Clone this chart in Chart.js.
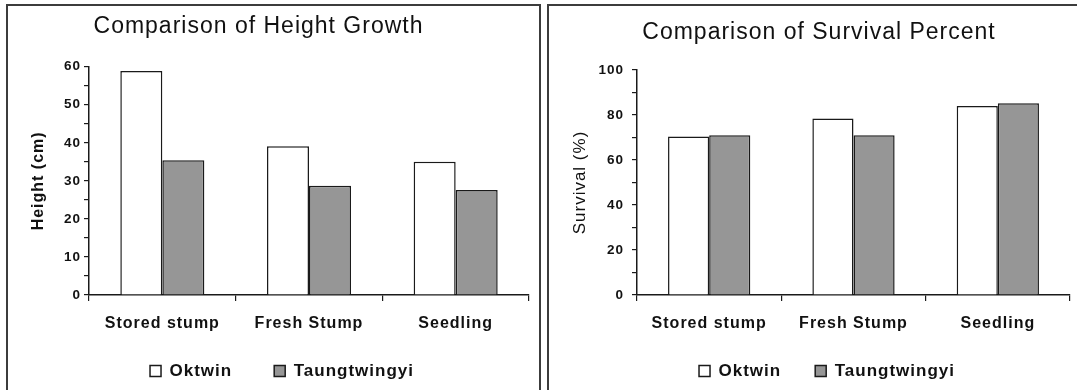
<!DOCTYPE html>
<html>
<head>
<meta charset="utf-8">
<script src="https://cdn.jsdelivr.net/npm/chart.js@4.4.1/dist/chart.umd.min.js"></script>
<style>
  html, body { margin: 0; padding: 0; background: #fff; width: 1077px; height: 390px; overflow: hidden; }
  canvas { position: absolute; top: 0; }
  .panel { position: absolute; top: 4px; height: 400px; box-sizing: border-box; border: 2px solid #3c3c3c; pointer-events: none; }
</style>
</head>
<body>
<canvas id="heightChart" width="540" height="420" style="left:0px"></canvas>
<canvas id="survivalChart" width="537" height="420" style="left:540px"></canvas>
<div class="panel" style="left:6px; width:535px"></div>
<div class="panel" style="left:547px; width:540px"></div>
<script>
// Planting stock types and the two species compared
const categories = ['Stored stump', 'Fresh Stump', 'Seedling'];
const seriesNames = ['Oktwin', 'Taungtwingyi'];

// Mean height growth (cm)
const heightOktwin = [58.9, 39.1, 35.0];
const heightTaungtwingyi = [35.4, 28.7, 27.6];

// Survival percent
const survivalOktwin = [70.4, 78.5, 84.0];
const survivalTaungtwingyi = [71.0, 71.0, 85.2];

// Labelled values on the value axes (the other ticks are unlabelled minor marks)
const heightTickLabels = [0, 10, 20, 30, 40, 50, 60];
const survivalTickLabels = [0, 20, 40, 60, 80, 100];

const FONT = "'Liberation Sans', Arial, sans-serif";
const INK = '#111111';
const LINE = '#1a1a1a';

// Slightly tracked-out lettering for all canvas text
const tracking = {
  id: 'tracking',
  beforeUpdate(chart) { chart.ctx.letterSpacing = '1px'; },
  beforeLayout(chart) { chart.ctx.letterSpacing = '1px'; },
  beforeDraw(chart) { chart.ctx.letterSpacing = '1px'; }
};

// Centres the chart title on a chosen x position
const titlePlace = {
  id: 'titlePlace',
  afterLayout(chart, args, opts) {
    const t = chart.titleBlock;
    if (!t || opts.center == null) return;
    const half = (t.right - t.left) / 2;
    t.left = opts.center - half;
    t.right = opts.center + half;
  }
};

// Moves the legend row so its text sits on a chosen y position
const legendPlace = {
  id: 'legendPlace',
  afterLayout(chart, args, opts) {
    const lg = chart.legend;
    if (!lg || opts.textY == null) return;
    const lab = lg.options.labels;
    const itemH = Math.max(lab.font.size, lab.boxHeight);
    const shift = opts.textY - (lg.top + lab.padding + itemH / 2);
    lg.top += shift;
    lg.bottom += shift;
  }
};

function buildChart(id, p) {
  return new Chart(document.getElementById(id), {
    type: 'bar',
    data: {
      labels: categories,
      datasets: [
        { label: seriesNames[0], data: p.first, backgroundColor: '#ffffff', borderColor: LINE, borderWidth: 1.5,
          categoryPercentage: p.groupShare, barPercentage: 1 },
        { label: seriesNames[1], data: p.second, backgroundColor: '#969696', borderColor: LINE, borderWidth: 1.5,
          categoryPercentage: p.groupShare, barPercentage: 1 }
      ]
    },
    options: {
      responsive: false,
      animation: false,
      devicePixelRatio: 1,
      layout: { padding: { left: p.padLeft, right: p.padRight, top: 0, bottom: p.padBottom } },
      plugins: {
        title: {
          display: true, text: p.title, color: INK,
          font: { family: FONT, size: 23, weight: 'normal', lineHeight: 1.2 },
          padding: { top: p.titleTop, bottom: p.titleBottom }
        },
        titlePlace: { center: p.titleCenter },
        legendPlace: { textY: 371 },
        legend: {
          position: 'bottom',
          labels: { color: INK, font: { family: FONT, size: 17, weight: 'bold' },
                    boxWidth: 11, boxHeight: 11, padding: p.legendGap }
        },
        tooltip: { enabled: false }
      },
      scales: {
        x: {
          grid: { display: true, drawOnChartArea: false, drawTicks: true, tickLength: 6,
                  color: LINE, lineWidth: 1.2, offset: true },
          border: { display: true, color: LINE, width: 1.5 },
          ticks: { color: INK, font: { family: FONT, size: 16, weight: 'bold' },
                   padding: 13, maxRotation: 0, autoSkip: false },
          afterFit(s) { s.height = 45; }
        },
        y: {
          min: 0, max: p.max,
          grid: { display: true, drawOnChartArea: false, drawTicks: true, tickLength: 5,
                  color: LINE, lineWidth: 1.2 },
          border: { display: true, color: LINE, width: 1.5 },
          ticks: { stepSize: p.step, autoSkip: false, padding: p.tickPad, color: INK,
                   font: { family: FONT, size: 13.5, weight: 'bold' },
                   callback: (v) => p.tickLabels.includes(v) ? String(v) : '' },
          title: { display: true, text: p.yTitle, color: INK,
                   font: { family: FONT, size: p.yTitleSize, weight: p.yTitleWeight, lineHeight: 1.2 },
                   padding: { top: p.yTitlePad, bottom: 0 } },
          afterFit(s) { s.width = p.yWidth; }
        }
      }
    },
    plugins: [tracking, titlePlace, legendPlace]
  });
}

// canvas height 420: 420 - padBottom - legend height - 45 (x axis) = 295 (plot bottom)
buildChart('heightChart', {
  first: heightOktwin, second: heightTaungtwingyi,
  title: 'Comparison of Height Growth', titleTop: 13.2, titleBottom: 25.9, titleCenter: 258.5,
  yTitle: 'Height (cm)', yTitleSize: 16, yTitleWeight: 'bold', yTitlePad: -6.1,
  max: 60, step: 5, tickLabels: heightTickLabels, tickPad: 3,
  padLeft: 35, padRight: 11, padBottom: 11, yWidth: 54, legendGap: 42, groupShare: 0.573
});

buildChart('survivalChart', {
  first: survivalOktwin, second: survivalTaungtwingyi,
  title: 'Comparison of Survival Percent', titleTop: 19.2, titleBottom: 23.2, titleCenter: 279,
  yTitle: 'Survival (%)', yTitleSize: 17, yTitleWeight: 'normal', yTitlePad: -14.2,
  max: 100, step: 10, tickLabels: survivalTickLabels, tickPad: 8,
  padLeft: 44, padRight: 7, padBottom: 19, yWidth: 53, legendGap: 34, groupShare: 0.57
});
</script>
</body>
</html>
